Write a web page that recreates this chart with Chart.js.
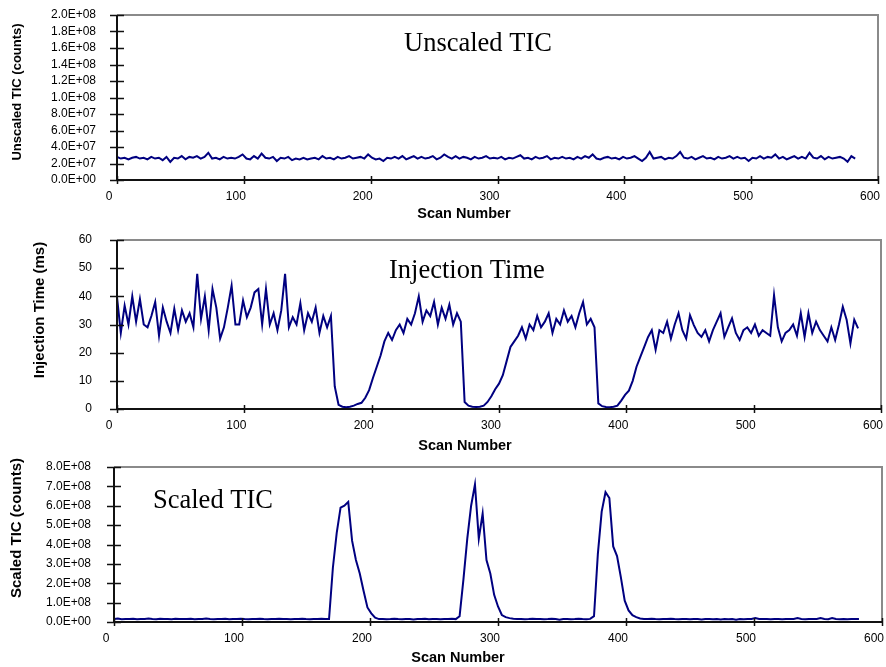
<!DOCTYPE html>
<html>
<head>
<meta charset="utf-8">
<script src="https://cdn.jsdelivr.net/npm/chart.js@4.4.1/dist/chart.umd.min.js"></script>
<style>
  body { margin: 0; background: #fff; }
  #wrap { position: relative; width: 886px; height: 667px; }
  canvas { position: absolute; left: 0; }
</style>
</head>
<body>
<div id="wrap">
  <canvas id="ticChart" width="886" height="225" style="top:0"></canvas>
  <canvas id="injChart" width="886" height="232" style="top:225px"></canvas>
  <canvas id="scaledChart" width="886" height="217" style="top:450px"></canvas>
</div>
<script>
// scan numbers (every 3rd scan)
const scanStep = 3;
const scanNumbers = [];
for (let s = 0; s <= 582; s += scanStep) scanNumbers.push(s);

// unscaled TIC, in units of 1E+07 counts
const unscaledTic = [
  2.8, 2.6, 2.7, 2.5, 2.7, 2.8, 2.6, 2.7, 2.5, 2.8,
  2.6, 2.7, 2.4, 2.8, 2.2, 2.7, 2.6, 2.9, 2.5, 2.8,
  2.7, 2.9, 2.6, 2.8, 3.3, 2.6, 2.7, 2.5, 2.8, 2.6,
  2.7, 2.6, 2.8, 3.1, 2.6, 2.5, 2.9, 2.6, 3.2, 2.7,
  2.6, 2.8, 2.3, 2.7, 2.6, 2.8, 2.4, 2.6, 2.5, 2.7,
  2.5, 2.6, 2.7, 2.5, 2.9, 2.6, 2.7, 2.5, 2.8, 2.6,
  2.7, 2.9, 2.6, 2.7, 2.8, 2.6, 3.1, 2.7, 2.5, 2.6,
  2.3, 2.7, 2.6, 2.8, 2.6, 2.9, 2.5, 2.7, 2.9, 2.6,
  2.8, 2.6, 2.7, 2.9, 2.5, 2.7, 3.1, 2.8, 2.6, 2.9,
  2.6, 2.8, 2.7, 2.5, 2.8, 2.6, 2.7, 2.9, 2.6, 2.7,
  2.6, 2.8, 2.5, 2.7, 2.6, 2.8, 3.0, 2.6, 2.7, 2.5,
  2.8, 2.6, 2.7, 2.9, 2.5, 2.7, 2.6, 2.8, 2.6, 2.7,
  2.5, 2.8, 2.6, 2.9, 2.7, 3.1, 2.6, 2.5, 2.7, 2.8,
  2.6, 2.7, 2.5, 2.8, 2.6, 2.7, 2.9, 2.6, 2.3, 2.7,
  3.4, 2.6, 2.7, 2.8, 2.5, 2.7, 2.6, 2.9, 3.4, 2.7,
  2.6, 2.8, 2.5, 2.7, 2.9, 2.6, 2.7, 2.5, 2.8, 2.6,
  2.7, 2.9, 2.6, 2.8, 2.6, 2.7, 2.3, 2.7, 2.6, 2.9,
  2.6, 2.8, 2.7, 3.1, 2.6, 2.8, 2.5, 2.7, 2.9, 2.6,
  2.8, 2.6, 3.3, 2.7, 2.6, 2.9, 2.5, 2.8, 2.6, 2.7,
  2.8, 2.6, 2.2, 2.9, 2.6
];

// injection time, ms
const injectionTime = [
  39.7, 27, 36.7, 30, 40, 31, 39, 30, 29, 33,
  38, 26, 36, 31, 27, 35.6, 28, 35, 31, 34,
  29, 48, 32, 40, 28, 42.6, 36, 25, 29, 36,
  43.8, 30, 30, 38.5, 32.6, 36, 41.4, 42.6, 30, 42.6,
  30, 34, 28, 35, 48, 29, 32.6, 30, 37.5, 28,
  34, 31, 36, 27, 33, 29, 33, 8, 1.5, 0.8,
  0.6, 0.8, 1.2, 1.8, 2.2, 4, 6.7, 11, 15, 19,
  24, 27, 24.5, 28, 30, 27, 32, 30, 34, 40,
  31, 35, 33, 38, 30, 36, 32, 37, 30, 34,
  31, 2.5, 1.2, 0.8, 0.7, 0.8, 1.2, 2.5, 4.5, 7,
  9, 12, 17, 22, 24, 26, 29, 25, 30, 28,
  33, 29, 31, 34, 27, 32, 30, 35, 31, 33,
  29, 34, 38, 30, 32, 29, 2, 1, 0.7, 0.6,
  0.8, 1.2, 3, 5, 6.5, 10, 15, 18.5, 22, 25.5,
  28, 21, 28, 27, 31, 25, 30, 34, 28, 25,
  33.3, 29.8, 27, 25.6, 28, 24, 28, 31, 34, 25.6,
  29, 32.2, 27, 24.5, 28, 29, 27, 30, 26, 28,
  27, 26, 40.4, 29, 24, 27, 28, 30, 26, 34,
  25.6, 34, 27, 31, 28, 26, 24, 29, 24.5, 30,
  36.3, 31.7, 23.3, 31.7, 28.6
];

// scaled TIC, in units of 1E+08 counts
const scaledTic = [
  0.15, 0.18, 0.14, 0.16, 0.15, 0.17, 0.14, 0.16, 0.15, 0.18,
  0.15, 0.14, 0.17, 0.15, 0.16, 0.14, 0.17, 0.15, 0.16, 0.15,
  0.17, 0.14, 0.16, 0.15, 0.18, 0.15, 0.14, 0.16, 0.15, 0.17,
  0.14, 0.16, 0.15, 0.17, 0.15, 0.14, 0.16, 0.15, 0.17, 0.15,
  0.14, 0.16, 0.15, 0.17, 0.15, 0.16, 0.14, 0.16, 0.15, 0.17,
  0.15, 0.14, 0.16, 0.15, 0.17, 0.15, 0.15, 2.8, 4.6, 5.9,
  6.0, 6.2, 4.2, 3.2, 2.5, 1.6, 0.75, 0.45, 0.22, 0.15,
  0.16, 0.14, 0.15, 0.17, 0.15, 0.14, 0.16, 0.15, 0.13, 0.16,
  0.15, 0.17, 0.14, 0.16, 0.15, 0.14, 0.16, 0.15, 0.17, 0.15,
  0.3, 2.2, 4.3, 6.0, 7.1, 4.3, 5.6, 3.2, 2.5, 1.4,
  0.8, 0.36, 0.25, 0.2, 0.17, 0.15, 0.16, 0.14, 0.15, 0.17,
  0.15, 0.16, 0.14, 0.15, 0.17, 0.15, 0.12, 0.15, 0.16, 0.14,
  0.15, 0.17, 0.15, 0.14, 0.16, 0.3, 3.5, 5.7, 6.7, 6.4,
  3.9, 3.4, 2.3, 1.1, 0.6, 0.35, 0.25, 0.18, 0.16, 0.15,
  0.17, 0.15, 0.14, 0.16, 0.15, 0.17, 0.15, 0.14, 0.16, 0.15,
  0.14, 0.16, 0.15, 0.13, 0.15, 0.16, 0.14, 0.15, 0.13, 0.15,
  0.14, 0.15, 0.12, 0.15, 0.14, 0.16, 0.15, 0.2, 0.15, 0.16,
  0.15, 0.14, 0.16, 0.15, 0.14, 0.15, 0.16, 0.15, 0.2, 0.15,
  0.14, 0.15, 0.16, 0.15, 0.2, 0.15, 0.14, 0.2, 0.15, 0.14,
  0.15, 0.14, 0.16, 0.15, 0.15
];

const xTicks = [0, 100, 200, 300, 400, 500, 600];

const sansFont = '"Liberation Sans", Arial, sans-serif';
const serifFont = '"Liberation Serif", "Times New Roman", serif';
const lineColor = '#000080';

// 2.0E+08 style labels
function sciLabel(v) {
  const [m, e] = Number(v).toExponential(1).split('e');
  const n = Math.abs(parseInt(e, 10));
  return m + 'E' + (e[0] === '-' ? '-' : '+') + String(n).padStart(2, '0');
}

function toPoints(values, unit) {
  return values.map((v, i) => ({ x: scanNumbers[i], y: v * unit }));
}

// grey top/right box, black axes, ticks crossing the axis lines, axis titles and caption
const framePlugin = {
  id: 'frame',
  beforeDatasetsDraw(chart) {
    const { ctx, chartArea: a } = chart;
    ctx.save();
    ctx.strokeStyle = '#8a8a8a';
    ctx.lineWidth = 2;
    ctx.beginPath();
    ctx.moveTo(a.left, a.top);
    ctx.lineTo(a.right, a.top);
    ctx.lineTo(a.right, a.bottom);
    ctx.stroke();
    ctx.restore();
  },
  afterDatasetsDraw(chart, args, opts) {
    const { ctx, chartArea: a, scales } = chart;
    ctx.save();
    ctx.strokeStyle = '#111';
    ctx.lineWidth = 2;
    ctx.beginPath();
    ctx.moveTo(a.left, a.top);
    ctx.lineTo(a.left, a.bottom);
    ctx.lineTo(a.right, a.bottom);
    ctx.stroke();

    ctx.lineWidth = 1.5;
    ctx.beginPath();
    scales.y.ticks.forEach(t => {
      const py = Math.round(scales.y.getPixelForValue(t.value)) + 0.5;
      ctx.moveTo(a.left - 7, py);
      ctx.lineTo(a.left + 7, py);
    });
    scales.x.ticks.forEach(t => {
      const px = Math.round(scales.x.getPixelForValue(t.value)) + 0.5;
      ctx.moveTo(px, a.bottom - 4);
      ctx.lineTo(px, a.bottom + 4);
    });
    ctx.stroke();

    ctx.fillStyle = '#000';
    ctx.textAlign = 'center';
    ctx.textBaseline = 'middle';

    // x axis title
    ctx.font = 'bold 14.5px ' + sansFont;
    ctx.fillText('Scan Number', opts.xTitle.x, opts.xTitle.y);

    // y axis title, reading upwards
    ctx.save();
    ctx.translate(opts.yTitle.x, opts.yTitle.y);
    ctx.rotate(-Math.PI / 2);
    ctx.font = 'bold ' + opts.yTitle.size + 'px ' + sansFont;
    ctx.fillText(opts.yTitle.text, 0, 0);
    ctx.restore();

    // caption inside the plot
    ctx.font = '26.5px ' + serifFont;
    ctx.textAlign = 'left';
    ctx.textBaseline = 'alphabetic';
    ctx.fillText(opts.caption.text, opts.caption.x, opts.caption.y);
    ctx.restore();
  }
};

function makePanel(id, p) {
  return new Chart(document.getElementById(id), {
    type: 'line',
    data: {
      datasets: [{
        data: p.points,
        borderColor: lineColor,
        borderWidth: 2,
        pointRadius: 0,
        tension: 0,
        fill: false
      }]
    },
    options: {
      responsive: false,
      animation: false,
      devicePixelRatio: 1,
      layout: { padding: { top: p.top, right: p.right, left: 0, bottom: 0 } },
      plugins: {
        legend: { display: false },
        tooltip: { enabled: false },
        frame: p.labels
      },
      scales: {
        x: {
          type: 'linear',
          min: 0,
          max: 600,
          afterBuildTicks: s => { s.ticks = xTicks.map(v => ({ value: v })); },
          afterFit: s => { s.height = p.xHeight; s.paddingLeft = 0; s.paddingRight = 0; },
          grid: { display: false, drawTicks: false },
          border: { display: false },
          ticks: {
            color: '#000',
            font: { family: sansFont, size: 12 },
            padding: 9,
            labelOffset: -8,
            maxRotation: 0
          }
        },
        y: {
          min: 0,
          max: p.yMax,
          afterFit: s => { s.width = p.yWidth; s.paddingTop = 0; s.paddingBottom = 0; },
          grid: { display: false, drawTicks: false },
          border: { display: false },
          ticks: {
            stepSize: p.yStep,
            autoSkip: false,
            color: '#000',
            font: { family: sansFont, size: 12 },
            padding: p.yLabelPad,
            callback: p.yFormat
          }
        }
      }
    },
    plugins: [framePlugin]
  });
}

makePanel('ticChart', {
  points: toPoints(unscaledTic, 1e7),
  top: 15, right: 8, xHeight: 45,
  yWidth: 117, yMax: 2e8, yStep: 2e7, yLabelPad: 21,
  yFormat: sciLabel,
  labels: {
    xTitle: { x: 464, y: 214 },
    yTitle: { text: 'Unscaled TIC (counts)', size: 13, x: 17, y: 92 },
    caption: { text: 'Unscaled TIC', x: 404, y: 51 }
  }
});

makePanel('injChart', {
  points: toPoints(injectionTime, 1),
  top: 15, right: 5, xHeight: 48,
  yWidth: 117, yMax: 60, yStep: 10, yLabelPad: 25,
  yFormat: v => String(v),
  labels: {
    xTitle: { x: 465, y: 221 },
    yTitle: { text: 'Injection Time (ms)', size: 15, x: 40, y: 85 },
    caption: { text: 'Injection Time', x: 389, y: 53 }
  }
});

makePanel('scaledChart', {
  points: toPoints(scaledTic, 1e8),
  top: 17, right: 4, xHeight: 45,
  yWidth: 114, yMax: 8e8, yStep: 1e8, yLabelPad: 23,
  yFormat: sciLabel,
  labels: {
    xTitle: { x: 458, y: 208 },
    yTitle: { text: 'Scaled TIC (counts)', size: 15, x: 17, y: 78 },
    caption: { text: 'Scaled TIC', x: 153, y: 58 }
  }
});
</script>
</body>
</html>
